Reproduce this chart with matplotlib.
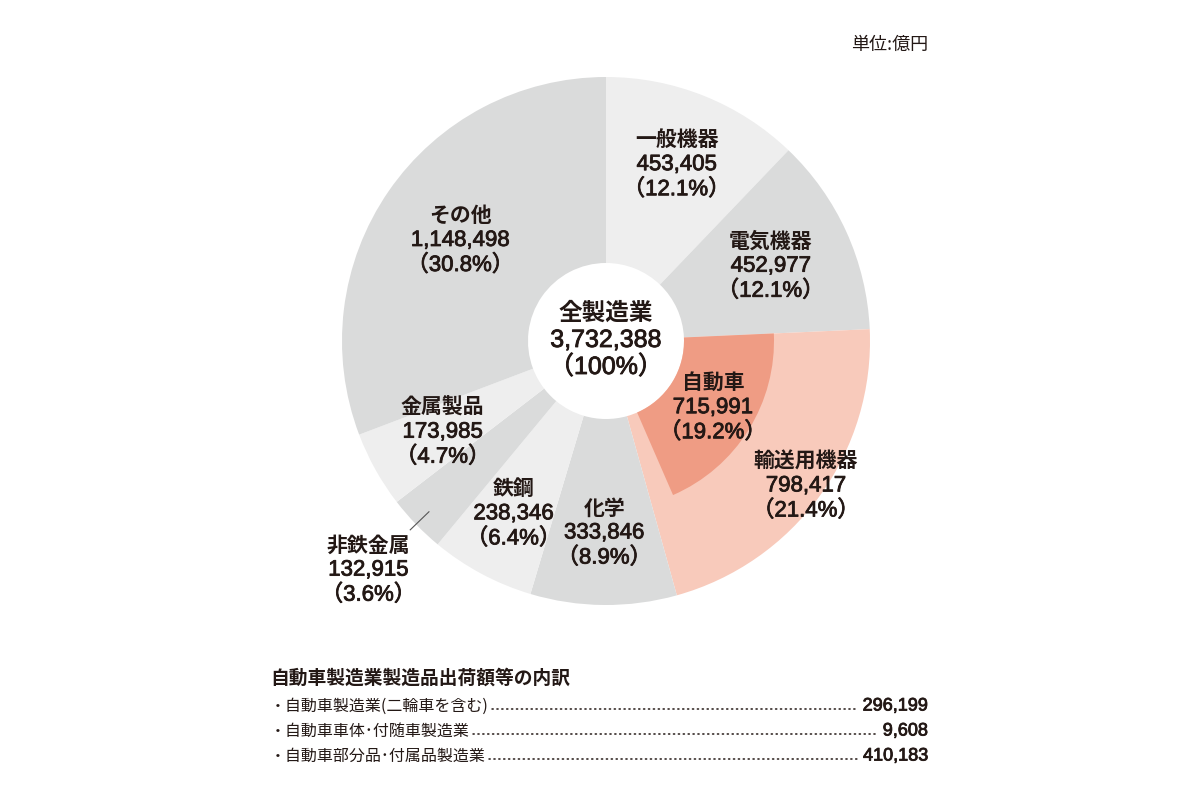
import numpy as np
import matplotlib.pyplot as plt
import matplotlib.patheffects as pe

plt.rcParams['font.family'] = ['Noto Sans CJK JP', 'DejaVu Sans']
NUM_FONT = ['Liberation Sans', 'Noto Sans CJK JP']

# data (億円)
categories = ['一般機器', '電気機器', '輸送用機器', '化学', '鉄鋼', '非鉄金属', '金属製品', 'その他']
values = [453405, 452977, 798417, 333846, 238346, 132915, 173985, 1148498]
total = 3732388
sub_name = '自動車'
sub_value = 715991
sub_parent = '輸送用機器'

breakdown_items = ['自動車製造業(二輪車を含む)', '自動車車体･付随車製造業', '自動車部分品･付属品製造業']
breakdown_values = [296199, 9608, 410183]

# style
TXT = '#231815'
LIGHT = '#eeeeee'
GREY = '#dadbdb'
colors = [LIGHT, GREY, '#f8cabb', GREY, LIGHT, GREY, LIGHT, GREY]
SUB_COLOR = '#ef9c84'
label_r = [190, 181, 247, 192, 196, 330, 187, 177]
thick = [pe.withStroke(linewidth=0.6, foreground=TXT)]

W, H = 1200, 800
cx, cy = 606, H - 341
R, R_HOLE, R_SUB = 264, 78, 168


def fmt(v):
    return '{:,}'.format(v)


def pct(v):
    return '（{:.1f}%）'.format(v / total * 100)


def block(x, y, lines, size=15, gap=25):
    ax.text(x, y + gap, lines[0], ha='center', va='center',
            fontsize=size, fontweight='bold', color=TXT)
    for i, s in enumerate(lines[1:]):
        ax.text(x, y - i * gap, s, ha='center', va='center', family=NUM_FONT,
                fontsize=size + 1, color=TXT, path_effects=thick)


fig = plt.figure(figsize=(12, 8), dpi=100)
ax = fig.add_axes([0, 0, 1, 1])

ax.pie(values, colors=colors, startangle=90, counterclock=False,
       radius=R, center=(cx, cy),
       wedgeprops=dict(width=R - R_HOLE, linewidth=0))

# inner wedge for 自動車 inside 輸送用機器
idx = categories.index(sub_parent)
start = 90 - sum(values[:idx]) / sum(values) * 360
ax.pie([sub_value, total - sub_value], colors=[SUB_COLOR, 'none'],
       startangle=start, counterclock=False, radius=R_SUB, center=(cx, cy),
       wedgeprops=dict(width=R_SUB - R_HOLE, linewidth=0))

ax.set_xlim(0, W)
ax.set_ylim(0, H)
ax.set_aspect('equal')
ax.axis('off')

# slice labels
cum = np.cumsum([0] + values[:-1])
for name, v, c, r in zip(categories, values, cum, label_r):
    mid = np.deg2rad(90 - (c + v / 2) / sum(values) * 360)
    x, y = cx + r * np.cos(mid), cy + r * np.sin(mid)
    block(x, y, [name, fmt(v), pct(v)])
    if name == '非鉄金属':
        r0, r1 = 246, 272
        ax.plot([cx + r0 * np.cos(mid), cx + r1 * np.cos(mid)],
                [cy + r0 * np.sin(mid), cy + r1 * np.sin(mid)],
                color='#555555', lw=0.8)

sub_mid = np.deg2rad(start - sub_value / sum(values) * 180)
block(cx + 126 * np.cos(sub_mid), cy + 126 * np.sin(sub_mid),
      [sub_name, fmt(sub_value), pct(sub_value)])

# center
block(cx, cy + 1, ['全製造業', fmt(total), '（100%）'], size=17, gap=27)

ax.text(928, H - 45, '単位:億円', ha='right', va='center', fontsize=13, color=TXT)

# breakdown table
ax.text(270, H - 678, '自動車製造業製造品出荷額等の内訳', ha='left', va='center',
        fontsize=13.5, fontweight='bold', color=TXT)
fig.canvas.draw()
rend = fig.canvas.get_renderer()
inv = ax.transData.inverted()
for i, (item, v) in enumerate(zip(breakdown_items, breakdown_values)):
    y = H - 706 - i * 25
    t1 = ax.text(270, y, '・' + item, ha='left', va='center', fontsize=11.5, color=TXT)
    t2 = ax.text(928, y, fmt(v), ha='right', va='center', family=NUM_FONT,
                 fontsize=13, color=TXT, path_effects=thick)
    x1 = inv.transform(t1.get_window_extent(rend).p1)[0]
    x2 = inv.transform(t2.get_window_extent(rend).p0)[0]
    ax.plot([x1 + 3, x2 - 5], [y - 3, y - 3], color=TXT, lw=1.1,
            linestyle=(0, (0.8, 2.4)), dash_capstyle='round')

fig.savefig('out.png', dpi=100, facecolor='white')
